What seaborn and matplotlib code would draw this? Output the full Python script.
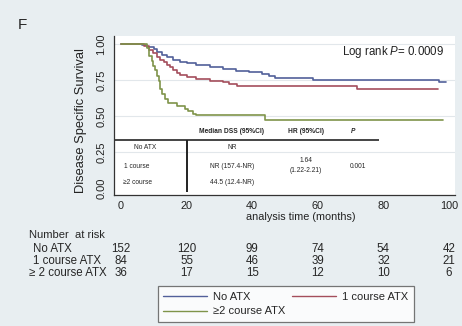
import matplotlib
matplotlib.use("Agg")
import matplotlib.pyplot as plt
import seaborn as sns
import pandas as pd
from matplotlib.transforms import blended_transform_factory

# ---- data ----
groups = ["No ATX", "1 course ATX", "≥2 course ATX"]
colors = ["#52609a", "#a44e5c", "#7f944a"]

t_none = [0, 6.5, 8, 10, 11, 12.5, 14, 16, 18, 20, 23, 27, 31, 35, 39, 43, 45, 47, 58.5, 97, 99]
s_none = [1.0, 0.99, 0.98, 0.965, 0.945, 0.925, 0.91, 0.89, 0.875, 0.865, 0.855, 0.84, 0.825,
          0.812, 0.805, 0.795, 0.78, 0.765, 0.752, 0.735, 0.735]

t_one = [0, 7, 8.5, 9.8, 11, 12, 13, 14, 15, 16, 17, 18, 20, 23, 27, 31, 33, 35.5, 72, 96.6]
s_one = [1.0, 0.985, 0.96, 0.935, 0.91, 0.89, 0.875, 0.855, 0.84, 0.82, 0.80, 0.785, 0.77,
         0.755, 0.745, 0.735, 0.725, 0.71, 0.685, 0.685]

t_two = [0, 8.0, 8.6, 9.4, 9.9, 10.3, 11, 11.5, 12, 12.6, 13.4, 14.3, 17, 19.5, 20.5, 22, 23, 44, 98]
s_two = [1.0, 0.97, 0.92, 0.88, 0.85, 0.82, 0.78, 0.74, 0.69, 0.65, 0.62, 0.59, 0.57, 0.55,
         0.535, 0.515, 0.505, 0.475, 0.475]

risk_times = [0, 20, 40, 60, 80, 100]
risk_none = [152, 120, 99, 74, 54, 42]
risk_one = [84, 55, 46, 39, 32, 21]
risk_two = [36, 17, 15, 12, 10, 6]
risk_labels = ["No ATX", "1 course ATX", "≥ 2 course ATX"]

xticks = [0, 20, 40, 60, 80, 100]
yticks = [0.0, 0.25, 0.5, 0.75, 1.0]
ytick_labels = ["0.00", "0.25", "0.50", "0.75", "1.00"]

# inset table contents
tbl_header = ["Median DSS (95%CI)", "HR (95%CI)", "P"]
tbl_rows = ["No ATX", "1 course", "≥2 course"]
tbl_median = ["NR", "NR (157.4-NR)", "44.5 (12.4-NR)"]
tbl_hr = ["1.64", "(1.22-2.21)"]
tbl_p = "0.001"

df = pd.concat([
    pd.DataFrame({"time": t_none, "surv": s_none, "group": groups[0]}),
    pd.DataFrame({"time": t_one, "surv": s_one, "group": groups[1]}),
    pd.DataFrame({"time": t_two, "surv": s_two, "group": groups[2]}),
], ignore_index=True)

# ---- styling ----
sns.set_theme(style="white")
plt.rcParams["font.family"] = ["Liberation Sans", "DejaVu Sans"]
plt.rcParams["mathtext.fontset"] = "custom"
plt.rcParams["mathtext.it"] = "Liberation Sans:italic"
plt.rcParams["mathtext.rm"] = "Liberation Sans"

W, H = 462, 326
bg = "#e8eef1"
fig = plt.figure(figsize=(W / 100, H / 100), dpi=100, facecolor=bg)
ax = fig.add_axes([114 / W, 1 - 195 / H, (455 - 114) / W, (195 - 36) / H])
ax.set_facecolor("white")

for y in [0.25, 0.5, 0.75, 1.0]:
    ax.axhline(y, color="#e2e7eb", lw=0.8, zorder=0)

sns.lineplot(data=df, x="time", y="surv", hue="group", hue_order=groups,
             palette=colors, estimator=None, sort=True, drawstyle="steps-post",
             linewidth=1.2, legend=False, ax=ax)

ax.set_xlim(-2.13, 101.8)
ax.set_ylim(-0.0486, 1.0556)
ax.set_xticks(xticks)
ax.set_xticklabels([str(v) for v in xticks], fontsize=7.8)
ax.set_yticks(yticks)
ax.set_yticklabels(ytick_labels, fontsize=8, rotation=90, va="center")
ax.tick_params(axis="both", direction="out", length=4, width=0.8, color="#333333",
               pad=1.5, labelcolor="#222222")
ax.tick_params(axis="x", pad=0.3)
ax.set_xlabel("")
ax.set_ylabel("")
for s in ["top", "right"]:
    ax.spines[s].set_visible(False)
for s in ["left", "bottom"]:
    ax.spines[s].set_color("#333333")
    ax.spines[s].set_linewidth(0.9)

# log rank text
ax.text(98.5, 0.944, r"Log rank $\it{P}$= 0.0009", ha="right", va="center",
        fontsize=8.3, color="#222222")

# inset table
hfs = 4.8
ax.text(33.8, 0.389, tbl_header[0], ha="center", va="center", fontsize=hfs, fontweight="bold")
ax.text(56.4, 0.389, tbl_header[1], ha="center", va="center", fontsize=hfs, fontweight="bold")
ax.text(70.7, 0.389, tbl_header[2], ha="center", va="center", fontsize=hfs,
        fontweight="bold", fontstyle="italic")
ax.plot([-2.13, 78.7], [0.333, 0.333], color="#444444", lw=1.4, solid_capstyle="butt")
ax.plot([20.1, 20.1], [0.333, -0.03], color="#222222", lw=1.4, solid_capstyle="butt")
ax.text(7.5, 0.278, tbl_rows[0], ha="center", va="center", fontsize=hfs)
ax.text(1.0, 0.146, tbl_rows[1], ha="left", va="center", fontsize=hfs)
ax.text(0.7, 0.035, tbl_rows[2], ha="left", va="center", fontsize=hfs)
ax.text(33.8, 0.278, tbl_median[0], ha="center", va="center", fontsize=hfs)
ax.text(33.8, 0.146, tbl_median[1], ha="center", va="center", fontsize=hfs)
ax.text(33.8, 0.035, tbl_median[2], ha="center", va="center", fontsize=hfs)
ax.text(56.4, 0.194, tbl_hr[0], ha="center", va="center", fontsize=hfs)
ax.text(56.4, 0.125, tbl_hr[1], ha="center", va="center", fontsize=hfs)
ax.text(72.3, 0.146, tbl_p, ha="center", va="center", fontsize=hfs)

# axis titles
fig.text(81 / W, 1 - 121 / H, "Disease Specific Survival", rotation=90,
         ha="center", va="center", fontsize=9.3, color="#222222")
fig.text(301 / W, 1 - 217 / H, "analysis time (months)", ha="center", va="center",
         fontsize=7.8, color="#222222")

# panel letter
fig.text(18 / W, 1 - 25 / H, "F", ha="left", va="center", fontsize=11)

# number at risk
tr = blended_transform_factory(ax.transData, fig.transFigure)
rfs = 8.3
fig.text(29 / W, 1 - 235 / H, "Number  at risk", ha="left", va="center", fontsize=8)
row_y = [1 - 249 / H, 1 - 261.5 / H, 1 - 273.5 / H]
row_x = [33 / W, 33 / W, 29 / W]
for lab, yy, xx, vals in zip(risk_labels, row_y, row_x, [risk_none, risk_one, risk_two]):
    fig.text(xx, yy, lab, ha="left", va="center", fontsize=rfs)
    for t, v in zip(risk_times, vals):
        ax.text(t, yy, str(v), transform=tr, ha="center", va="center", fontsize=rfs)

# legend (row-first order like Stata)
handles = [plt.Line2D([], [], color=c, lw=1.0) for c in colors]
order = [0, 2, 1]
leg = fig.legend([handles[i] for i in order], [groups[i] for i in order], ncol=2,
                 loc="center", bbox_to_anchor=(0.619, 1 - 304 / H), frameon=True,
                 fancybox=False, edgecolor="#555555", facecolor="white", fontsize=8,
                 handlelength=3.9, handletextpad=0.6, columnspacing=0.6,
                 labelspacing=0.45, borderpad=0.5, borderaxespad=0)
leg.get_frame().set_linewidth(0.9)

fig.savefig("out.png", dpi=100, facecolor=bg)
